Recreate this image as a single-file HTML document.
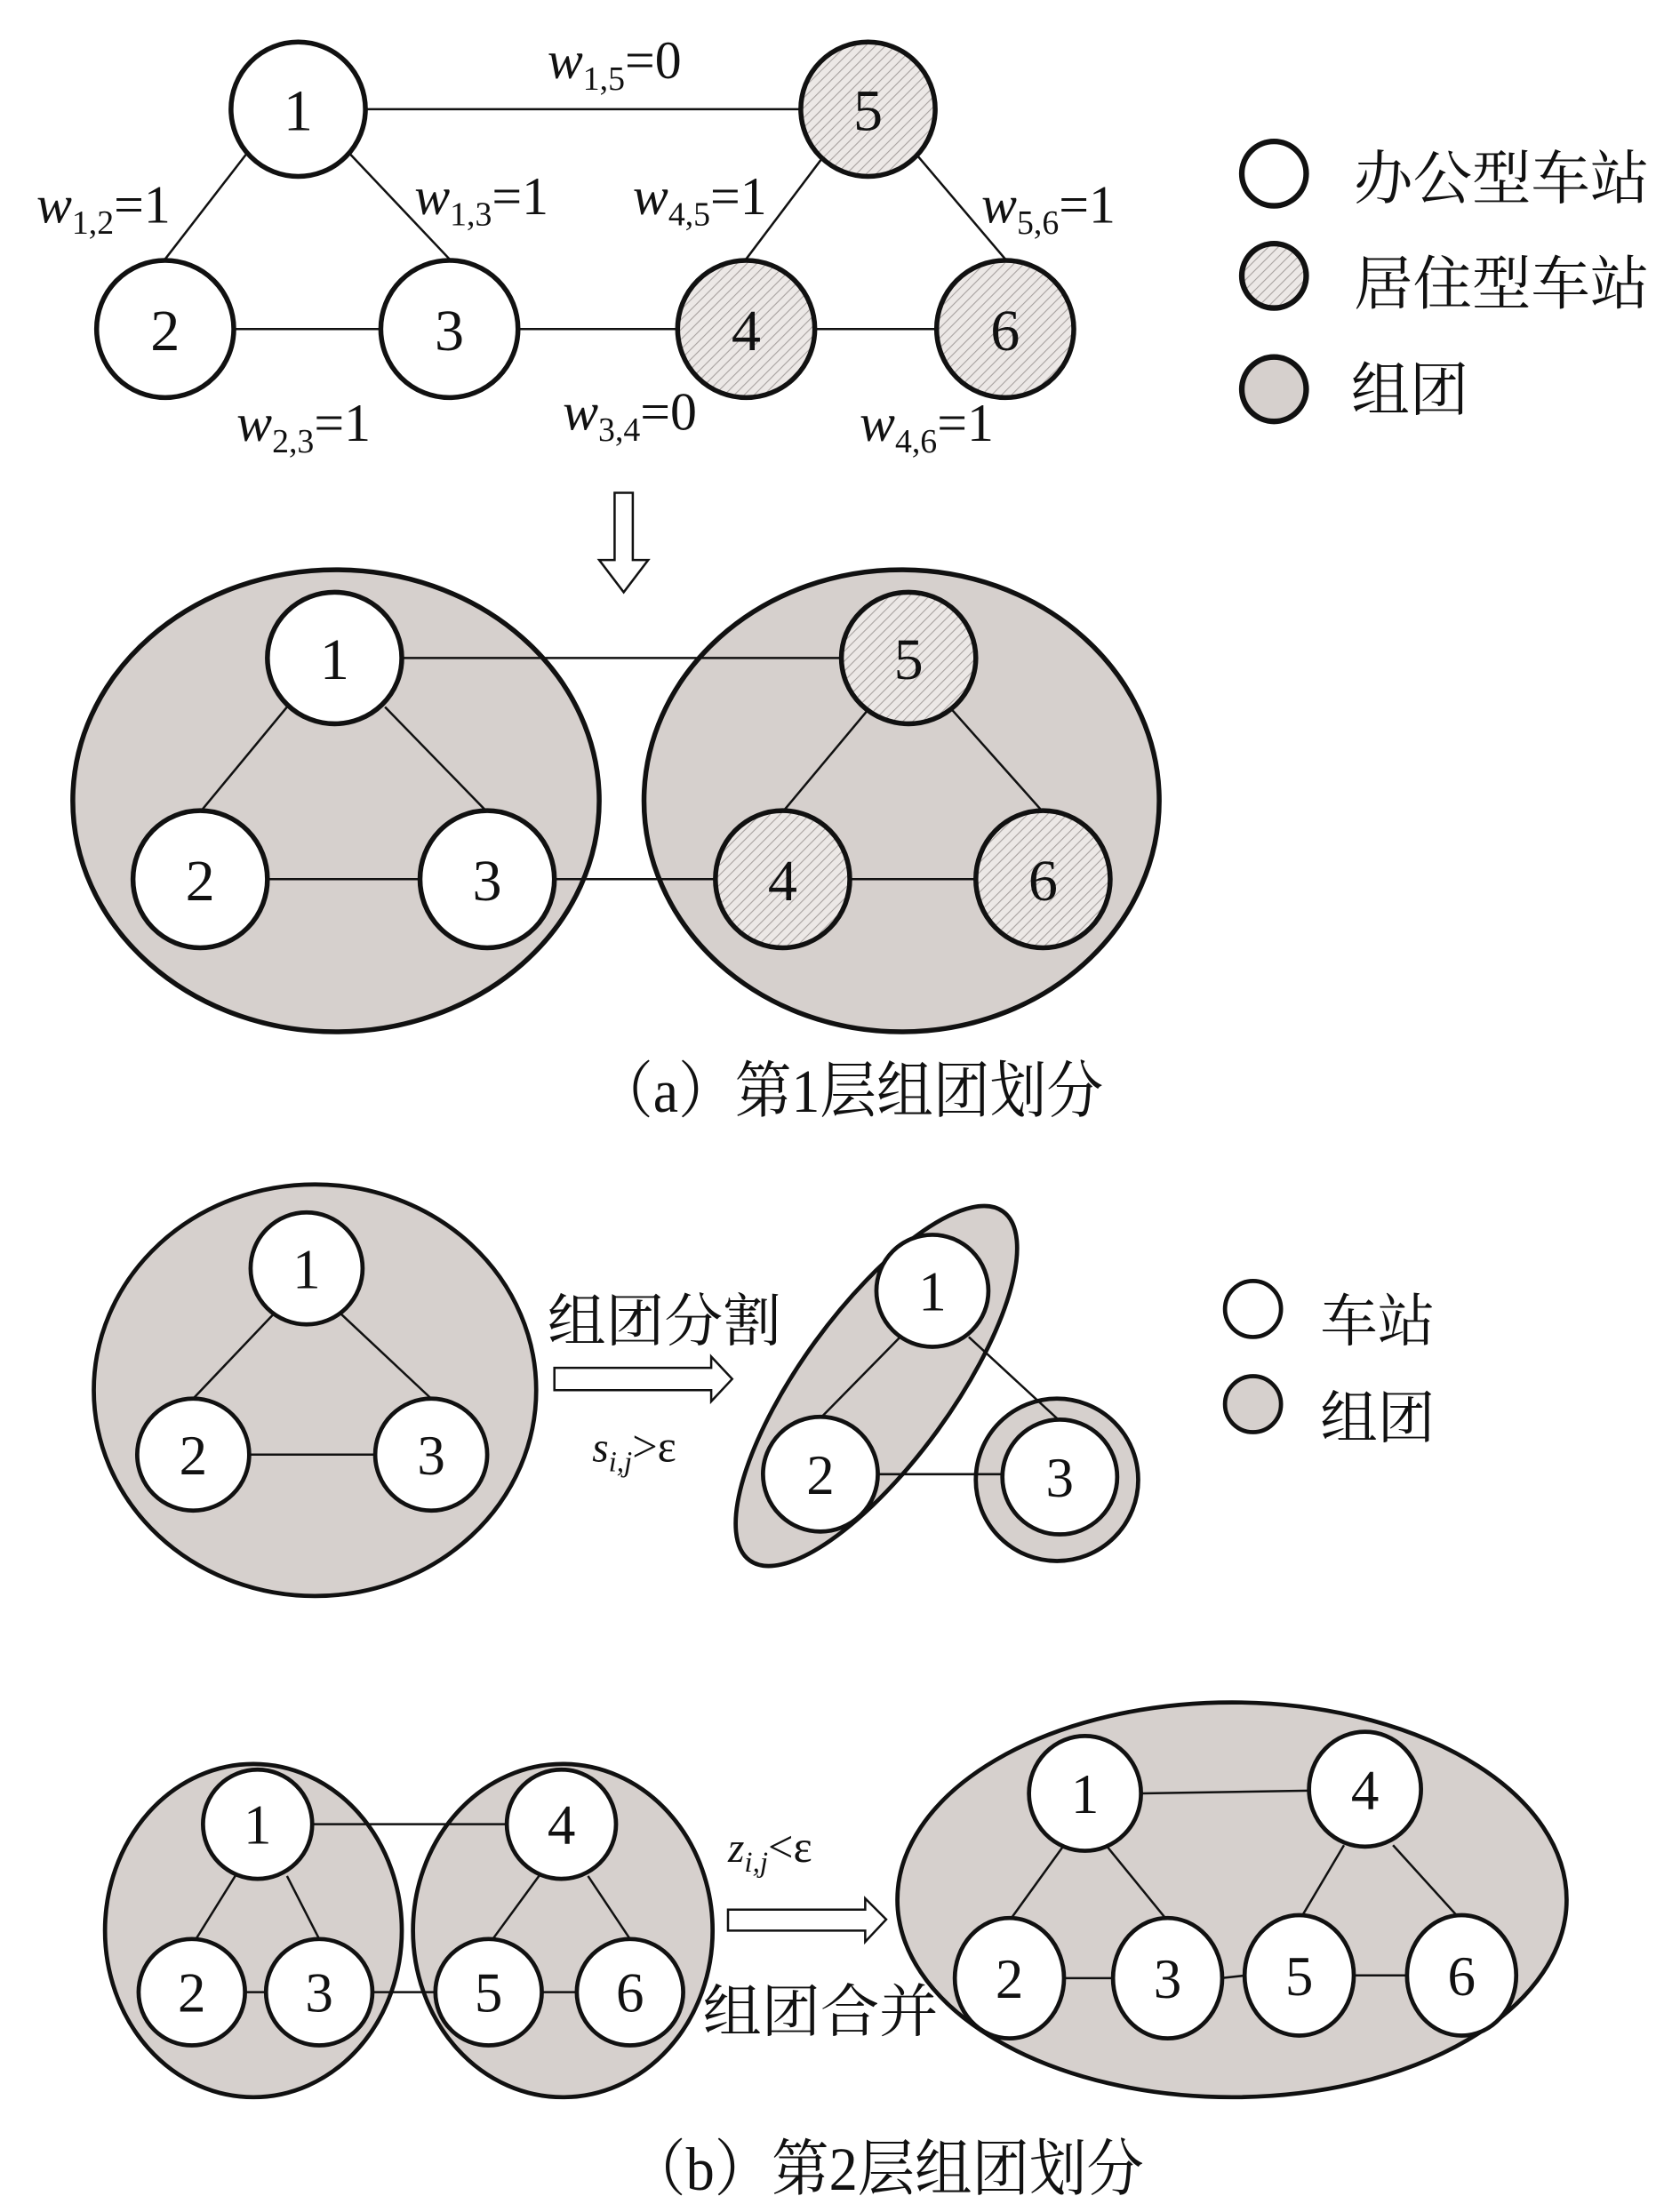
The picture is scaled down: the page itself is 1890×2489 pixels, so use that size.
<!DOCTYPE html>
<html><head><meta charset="utf-8"><style>
html,body{margin:0;padding:0;background:#fff}
svg{display:block}
text{font-family:"Liberation Serif","Noto Serif CJK SC",serif;fill:#111}
.c{font-family:"Liberation Serif","Noto Serif CJK SC","Noto Sans CJK SC",serif}
</style></head><body>
<svg width="1890" height="2489" viewBox="0 0 1200 1580" preserveAspectRatio="none" xmlns="http://www.w3.org/2000/svg">
<defs>
<pattern id="h" patternUnits="userSpaceOnUse" width="5" height="5" patternTransform="rotate(45)">
<rect width="5" height="5" fill="#ece8e6"/><line x1="0" y1="0" x2="0" y2="5" stroke="#a8a2a0" stroke-width="1.4"/>
</pattern>
</defs>
<!-- top graph edges -->
<g stroke="#111" stroke-width="1.6" fill="none">
<line x1="262" y1="78" x2="571" y2="78"/>
<line x1="176" y1="110" x2="118" y2="185"/>
<line x1="250" y1="110" x2="321" y2="185"/>
<line x1="167" y1="235" x2="272" y2="235"/>
<line x1="370" y1="235" x2="484" y2="235"/>
<line x1="582" y1="235" x2="669" y2="235"/>
<line x1="588" y1="112" x2="533" y2="185"/>
<line x1="656" y1="112" x2="718" y2="185"/>
</g>
<g stroke="#111" stroke-width="3.5">
<circle cx="213" cy="78" r="48" fill="#fff"/>
<circle cx="620" cy="78" r="48" fill="url(#h)"/>
<circle cx="118" cy="235" r="49" fill="#fff"/>
<circle cx="321" cy="235" r="49" fill="#fff"/>
<circle cx="533" cy="235" r="49" fill="url(#h)"/>
<circle cx="718" cy="235" r="49" fill="url(#h)"/>
</g>
<g font-size="42" text-anchor="middle">
<text x="213" y="93">1</text><text x="620" y="93">5</text><text x="118" y="250">2</text>
<text x="321" y="250">3</text><text x="533" y="250">4</text><text x="718" y="250">6</text>
</g>
<g font-size="38" font-style="italic">
<text x="391" y="56">w<tspan font-size="24" font-style="normal" dy="8">1,5</tspan><tspan font-style="normal" dy="-8">=0</tspan></text>
<text x="26" y="159">w<tspan font-size="24" font-style="normal" dy="8">1,2</tspan><tspan font-style="normal" dy="-8">=1</tspan></text>
<text x="296" y="153">w<tspan font-size="24" font-style="normal" dy="8">1,3</tspan><tspan font-style="normal" dy="-8">=1</tspan></text>
<text x="452" y="153">w<tspan font-size="24" font-style="normal" dy="8">4,5</tspan><tspan font-style="normal" dy="-8">=1</tspan></text>
<text x="701" y="159">w<tspan font-size="24" font-style="normal" dy="8">5,6</tspan><tspan font-style="normal" dy="-8">=1</tspan></text>
<text x="169" y="315">w<tspan font-size="24" font-style="normal" dy="8">2,3</tspan><tspan font-style="normal" dy="-8">=1</tspan></text>
<text x="402" y="307">w<tspan font-size="24" font-style="normal" dy="8">3,4</tspan><tspan font-style="normal" dy="-8">=0</tspan></text>
<text x="614" y="315">w<tspan font-size="24" font-style="normal" dy="8">4,6</tspan><tspan font-style="normal" dy="-8">=1</tspan></text>
</g>
<!-- legend -->
<g stroke="#111" stroke-width="4">
<circle cx="910" cy="124" r="23" fill="#fff"/>
<circle cx="910" cy="197" r="23" fill="url(#h)"/>
<circle cx="910" cy="278" r="23" fill="#d6d0cd"/>
</g>
<g font-size="42" class="c">
<text x="967" y="142" textLength="211" lengthAdjust="spacingAndGlyphs">办公型车站</text>
<text x="967" y="217" textLength="211" lengthAdjust="spacingAndGlyphs">居住型车站</text>
<text x="965" y="293">组团</text>
</g>
<!-- down arrow -->
<path d="M439 352 H452 V400 H463 L445.5 423 L428 400 H439 Z" fill="#fff" stroke="#111" stroke-width="1.6"/>
<!-- layer 1 clusters -->
<g stroke="#111" stroke-width="3.5" fill="#d6d0cd">
<ellipse cx="240" cy="572" rx="188" ry="165"/>
<ellipse cx="644" cy="572" rx="184" ry="165"/>
</g>
<g stroke="#111" stroke-width="1.6" fill="none">
<line x1="288" y1="470" x2="600" y2="470"/>
<line x1="205" y1="505" x2="143" y2="580"/>
<line x1="275" y1="505" x2="348" y2="580"/>
<line x1="192" y1="628" x2="299" y2="628"/>
<line x1="397" y1="628" x2="510" y2="628"/>
<line x1="608" y1="628" x2="696" y2="628"/>
<line x1="620" y1="507" x2="559" y2="580"/>
<line x1="680" y1="507" x2="745" y2="580"/>
</g>
<g stroke="#111" stroke-width="3.5">
<ellipse cx="239" cy="470" rx="48" ry="47" fill="#fff"/>
<ellipse cx="649" cy="470" rx="48" ry="47" fill="url(#h)"/>
<ellipse cx="143" cy="628" rx="48" ry="49" fill="#fff"/>
<ellipse cx="348" cy="628" rx="48" ry="49" fill="#fff"/>
<ellipse cx="559" cy="628" rx="48" ry="49" fill="url(#h)"/>
<ellipse cx="745" cy="628" rx="48" ry="49" fill="url(#h)"/>
</g>
<g font-size="42" text-anchor="middle">
<text x="239" y="485">1</text><text x="649" y="485">5</text><text x="143" y="643">2</text>
<text x="348" y="643">3</text><text x="559" y="643">4</text><text x="745" y="643">6</text>
</g>
<text x="426" y="794" font-size="44" class="c" textLength="362" lengthAdjust="spacingAndGlyphs">（a）第1层组团划分</text>

<!-- part b split -->
<g stroke="#111" stroke-width="3" fill="#d6d0cd">
<ellipse cx="225" cy="993" rx="158" ry="147"/>
<ellipse cx="626" cy="990" rx="154" ry="54" transform="rotate(-54 626 990)"/>
<circle cx="755" cy="1057" r="58"/>
</g>
<g stroke="#111" stroke-width="1.6">
<line x1="196" y1="938" x2="138" y2="999"/>
<line x1="243" y1="938" x2="308" y2="999"/>
<line x1="178" y1="1039" x2="268" y2="1039"/>
<line x1="643" y1="955" x2="586" y2="1013"/>
<line x1="692" y1="955" x2="757" y2="1015"/>
<line x1="626" y1="1053" x2="717" y2="1053"/>
</g>
<g stroke="#111" stroke-width="3" fill="#fff">
<circle cx="219" cy="906" r="40"/>
<circle cx="138" cy="1039" r="40"/>
<circle cx="308" cy="1039" r="40"/>
<circle cx="666" cy="922" r="40"/>
<circle cx="586" cy="1053" r="41"/>
<circle cx="757" cy="1055" r="41"/>
</g>
<g font-size="40" text-anchor="middle">
<text x="219" y="920">1</text><text x="138" y="1053">2</text><text x="308" y="1053">3</text>
<text x="666" y="936">1</text><text x="586" y="1067">2</text><text x="757" y="1069">3</text>
</g>
<text x="391" y="958" font-size="41" class="c" textLength="167" lengthAdjust="spacingAndGlyphs">组团分割</text>
<path d="M396 977 H508 V969 L523 985 L508 1001 V993 H396 Z" fill="#fff" stroke="#111" stroke-width="1.6"/>
<text x="423" y="1044" font-size="30" font-style="italic">s<tspan font-size="21" dy="7">i,j</tspan><tspan font-style="normal" dy="-7" font-size="32">&gt;ε</tspan></text>
<g stroke="#111" stroke-width="3">
<circle cx="895" cy="935" r="20" fill="#fff"/>
<circle cx="895" cy="1003" r="20" fill="#d6d0cd"/>
</g>
<g font-size="41" class="c"><text x="943" y="958">车站</text><text x="943" y="1027">组团</text></g>

<!-- part b merge -->
<g stroke="#111" stroke-width="3" fill="#d6d0cd">
<ellipse cx="181" cy="1379" rx="106" ry="119"/>
<ellipse cx="402" cy="1379" rx="107" ry="119"/>
<ellipse cx="880" cy="1357" rx="239" ry="141"/>
</g>
<g stroke="#111" stroke-width="1.6">
<line x1="222" y1="1303" x2="362" y2="1303"/>
<line x1="168" y1="1340" x2="140" y2="1385"/>
<line x1="205" y1="1340" x2="228" y2="1385"/>
<line x1="176" y1="1423" x2="189" y2="1423"/>
<line x1="266" y1="1423" x2="311" y2="1423"/>
<line x1="385" y1="1340" x2="352" y2="1385"/>
<line x1="420" y1="1340" x2="450" y2="1385"/>
<line x1="387" y1="1423" x2="411" y2="1423"/>
<line x1="815" y1="1281" x2="935" y2="1279"/>
<line x1="760" y1="1318" x2="721" y2="1372"/>
<line x1="790" y1="1318" x2="834" y2="1372"/>
<line x1="960" y1="1318" x2="928" y2="1372"/>
<line x1="995" y1="1318" x2="1044" y2="1372"/>
<line x1="760" y1="1413" x2="795" y2="1413"/>
<line x1="872" y1="1413" x2="890" y2="1411"/>
<line x1="966" y1="1411" x2="1006" y2="1411"/>
</g>
<g stroke="#111" stroke-width="3" fill="#fff">
<circle cx="184" cy="1303" r="39"/>
<circle cx="401" cy="1303" r="39"/>
<circle cx="137" cy="1423" r="38"/>
<circle cx="228" cy="1423" r="38"/>
<circle cx="349" cy="1423" r="38"/>
<circle cx="450" cy="1423" r="38"/>
<ellipse cx="775" cy="1281" rx="40" ry="41"/>
<ellipse cx="975" cy="1278" rx="40" ry="41"/>
<ellipse cx="721" cy="1413" rx="39" ry="43"/>
<ellipse cx="834" cy="1413" rx="39" ry="43"/>
<ellipse cx="928" cy="1411" rx="39" ry="43"/>
<ellipse cx="1044" cy="1411" rx="39" ry="43"/>
</g>
<g font-size="40" text-anchor="middle">
<text x="184" y="1317">1</text><text x="401" y="1317">4</text><text x="137" y="1437">2</text>
<text x="228" y="1437">3</text><text x="349" y="1437">5</text><text x="450" y="1437">6</text>
<text x="775" y="1295">1</text><text x="975" y="1292">4</text><text x="721" y="1427">2</text>
<text x="834" y="1427">3</text><text x="928" y="1425">5</text><text x="1044" y="1425">6</text>
</g>
<text x="520" y="1330" font-size="30" font-style="italic">z<tspan font-size="21" dy="7">i,j</tspan><tspan font-style="normal" dy="-7" font-size="32">&lt;ε</tspan></text>
<path d="M520 1364 H618 V1356 L633 1371 L618 1387 V1379 H520 Z" fill="#fff" stroke="#111" stroke-width="1.6"/>
<text x="502" y="1451" font-size="41" class="c" textLength="168" lengthAdjust="spacingAndGlyphs">组团合并</text>
<text x="449" y="1564" font-size="44" class="c" textLength="368" lengthAdjust="spacingAndGlyphs">（b）第2层组团划分</text>
</svg>
</body></html>
